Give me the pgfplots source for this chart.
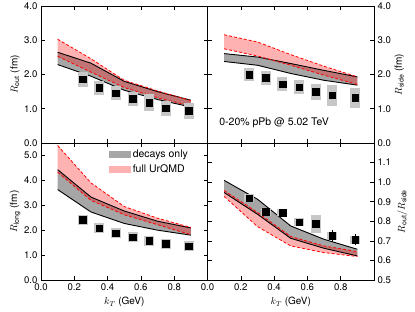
\documentclass[border=0pt]{standalone}
\usepackage{fontspec}
\setmainfont{TeX Gyre Heros}
\usepackage{pgfplots}
\usepackage{pgfplotstable}
\pgfplotsset{compat=1.18}
\usepgfplotslibrary{fillbetween}

% bands: kT, decays-only low/high, full UrQMD low/high
\pgfplotstableread{
kt dlo dhi flo fhi
0.1 2.29 2.65 2.53 3.03
0.3 1.95 2.33 2.07 2.46
0.5 1.54 1.80 1.62 1.83
0.7 1.27 1.50 1.32 1.52
0.9 1.05 1.25 1.08 1.24
}\routband
\pgfplotstableread{
kt dlo dhi flo fhi
0.1 2.38 2.61 2.75 3.16
0.3 2.27 2.51 2.54 2.95
0.5 2.03 2.32 2.27 2.58
0.7 1.83 2.12 1.98 2.24
0.9 1.69 1.93 1.71 1.93
}\rsideband
\pgfplotstableread{
kt dlo dhi flo fhi
0.1 3.63 4.43 4.33 5.40
0.3 2.73 3.33 3.20 3.90
0.5 2.27 2.77 2.62 2.95
0.7 2.00 2.36 2.22 2.48
0.9 1.80 2.09 1.82 2.11
}\rlongband
\pgfplotstableread{
kt dlo dhi flo fhi
0.1 0.947 1.009 0.927 0.957
0.3 0.836 0.913 0.773 0.845
0.5 0.713 0.776 0.674 0.722
0.7 0.662 0.708 0.640 0.674
0.9 0.623 0.657 0.620 0.645
}\ratioband

% data: kT, value, systematic, statistical
\pgfplotstableread{
kt y sys stat
0.25 1.86 0.22 0.01
0.35 1.61 0.20 0.01
0.45 1.455 0.20 0.01
0.55 1.29 0.20 0.01
0.65 1.18 0.25 0.01
0.75 1.02 0.22 0.01
0.887 0.94 0.24 0.01
}\routdata
\pgfplotstableread{
kt y sys stat
0.25 2.00 0.20 0.01
0.35 1.90 0.20 0.01
0.45 1.72 0.20 0.01
0.55 1.63 0.20 0.01
0.65 1.49 0.23 0.01
0.75 1.39 0.30 0.01
0.887 1.32 0.30 0.01
}\rsidedata
\pgfplotstableread{
kt y sys stat
0.25 2.41 0.20 0.01
0.35 2.08 0.20 0.01
0.45 1.88 0.20 0.01
0.55 1.72 0.20 0.01
0.65 1.58 0.20 0.01
0.75 1.45 0.20 0.01
0.887 1.36 0.20 0.01
}\rlongdata
\pgfplotstableread{
kt y sys stat
0.25 0.918 0.020 0.005
0.35 0.848 0.020 0.005
0.45 0.845 0.020 0.005
0.55 0.795 0.020 0.008
0.65 0.787 0.045 0.010
0.75 0.726 0.020 0.030
0.887 0.705 0.020 0.028
}\ratiodata

\newcommand{\bands}[2]{%
  \addplot[draw=none, forget plot, name path=#2dlo] table[x=kt,y=dlo]{#1};
  \addplot[draw=none, forget plot, name path=#2dhi] table[x=kt,y=dhi]{#1};
  \addplot[draw=none, forget plot, name path=#2flo] table[x=kt,y=flo]{#1};
  \addplot[draw=none, forget plot, name path=#2fhi] table[x=kt,y=fhi]{#1};
  \addplot[fill=gray, fill opacity=0.7, draw=none, forget plot] fill between[of=#2dlo and #2dhi];
  \addplot[fill=red, fill opacity=0.3, draw=none, forget plot] fill between[of=#2flo and #2fhi];
  \addplot[black, line width=0.9pt, forget plot] table[x=kt,y=dlo]{#1};
  \addplot[black, line width=0.9pt, forget plot] table[x=kt,y=dhi]{#1};
  \addplot[red, line width=0.8pt, dash pattern=on 3pt off 2pt, forget plot] table[x=kt,y=flo]{#1};
  \addplot[red, line width=0.8pt, dash pattern=on 3pt off 2pt, forget plot] table[x=kt,y=fhi]{#1};
}
\newcommand{\points}[1]{%
  \addplot[only marks, mark=none, forget plot,
    error bars/.cd, y dir=both, y explicit, error mark=none,
    error bar style={line width=10pt, color=black!22}]
    table[x=kt, y=y, y error=sys]{#1};
  \addplot[only marks, mark=square*, mark size=3.3pt, black, forget plot,
    error bars/.cd, y dir=both, y explicit, error mark=none,
    error bar style={line width=1pt, black}]
    table[x=kt, y=y, y error=stat]{#1};
}

\pgfplotsset{
  panel/.style={
    width=166.5pt, height=137pt, scale only axis,
    xmin=0, xmax=1,
    xtick={0,0.2,0.4,0.6,0.8},
    tick align=inside, tick pos=both,
    major tick length=4pt,
    axis line style={line width=0.8pt},
    every tick/.style={black, line width=0.6pt},
    /pgf/number format/assume math mode=true,
    tick label style={font=\fontsize{9.6}{11}\selectfont},
    xticklabel style={/pgf/number format/.cd, fixed, fixed zerofill, precision=1},
    yticklabel style={/pgf/number format/.cd, fixed, fixed zerofill, precision=1},
    label style={font=\fontsize{10.5}{12}\selectfont},
    every axis y label/.style={at={(axis description cs:-0.156,0.5)}, rotate=90, anchor=center},
    every axis x label/.style={at={(axis description cs:0.5,-0.16)}, anchor=center},
  },
  rpanel/.style={
    yticklabel pos=right,
    every axis y label/.style={at={(axis description cs:1.152,0.5)}, rotate=90, anchor=center},
  }
}

\begin{document}
\begin{tikzpicture}
\begin{axis}[panel, at={(0pt,0pt)}, anchor=north west,
  ymin=0, ymax=4, ytick={0,1,2,3,4}, xticklabels={},
  ylabel={$R_{\mathrm{out}}$ (fm)}]
  \bands{\routband}{a}
  \points{\routdata}
\end{axis}
\begin{axis}[panel, rpanel, at={(166.5pt,0pt)}, anchor=north west,
  ymin=0, ymax=4, ytick={0,1,2,3,4}, xticklabels={},
  ylabel={$R_{\mathrm{side}}$ (fm)}]
  \bands{\rsideband}{b}
  \points{\rsidedata}
  \node[anchor=west, font=\fontsize{10.5}{12}\selectfont] at (axis description cs:0.05,0.146) {0-20\% pPb @ 5.02 TeV};
\end{axis}
\begin{axis}[panel, at={(0pt,-137pt)}, anchor=north west,
  ymin=0, ymax=5.5, ytick={0,1,2,3,4,5},
  xlabel={$k_T$ (GeV)},
  ylabel={$R_{\mathrm{long}}$ (fm)},
  legend style={draw=none, fill=none, at={(axis description cs:0.40,0.975)}, anchor=north west,
    font=\fontsize{10.5}{12}\selectfont, row sep=2pt, inner sep=1pt},
  legend cell align=left]
  \bands{\rlongband}{c}
  \points{\rlongdata}
  \addlegendimage{draw=none, legend image code/.code={\path[draw=none, fill=black!35] (0pt,-3.5pt) rectangle (22pt,3.5pt);}}
  \addlegendentry{decays only}
  \addlegendimage{draw=none, legend image code/.code={\path[draw=none, fill=red!30] (0pt,-3.5pt) rectangle (22pt,3.5pt);}}
  \addlegendentry{full UrQMD}
\end{axis}
\begin{axis}[panel, rpanel, at={(166.5pt,-137pt)}, anchor=north west,
  ymin=0.5, ymax=1.2, ytick={0.5,0.6,0.7,0.8,0.9,1.0,1.1},
  xlabel={$k_T$ (GeV)},
  ylabel={$R_{\mathrm{out}}/R_{\mathrm{side}}$},
  every axis y label/.style={at={(axis description cs:1.17,0.5)}, rotate=90, anchor=center}]
  \bands{\ratioband}{d}
  \points{\ratiodata}
\end{axis}
\pgfresetboundingbox
\useasboundingbox (-41pt,6pt) rectangle (374pt,-306pt);
\end{tikzpicture}
\end{document}
